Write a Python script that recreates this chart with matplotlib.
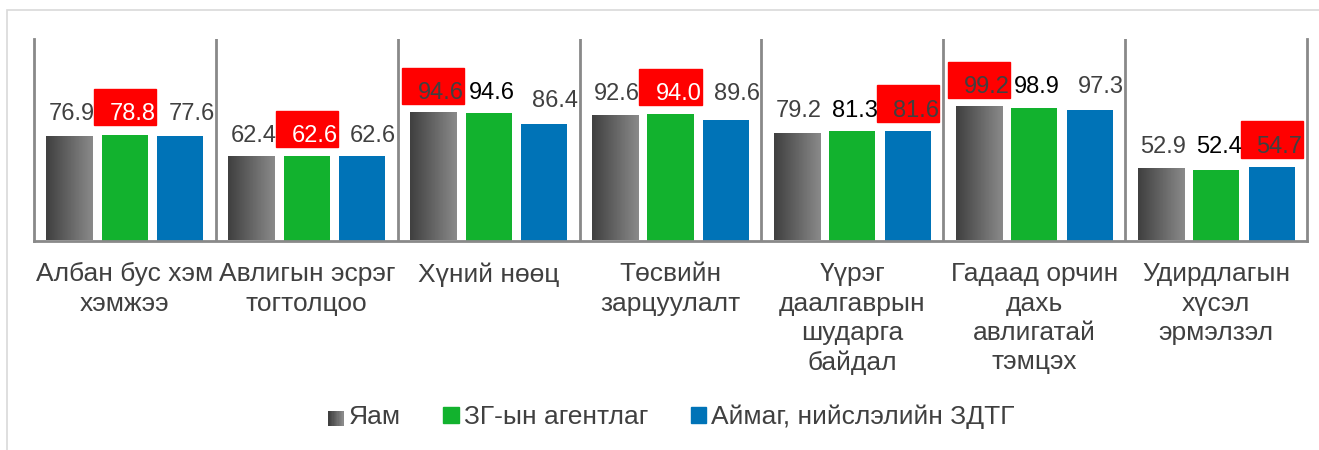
import matplotlib
matplotlib.use("Agg")
import matplotlib.pyplot as plt
import matplotlib.transforms as mtransforms
from matplotlib.patches import Rectangle
from matplotlib.legend_handler import HandlerBase
import numpy as np

plt.rcParams['font.family'] = ['Liberation Sans', 'DejaVu Sans']

# ---- data ----
categories = ["Албан бус хэм\nхэмжээ", "Авлигын эсрэг\nтогтолцоо", "Хүний нөөц",
              "Төсвийн\nзарцуулалт", "Үүрэг\nдаалгаврын\nшударга\nбайдал",
              "Гадаад орчин\nдахь\nавлигатай\nтэмцэх", "Удирдлагын\nхүсэл\nэрмэлзэл"]
series_names = ["Яам", "ЗГ-ын агентлаг", "Аймаг, нийслэлийн ЗДТГ"]
yam = [76.9, 62.4, 94.6, 92.6, 79.2, 99.2, 52.9]
agency = [78.8, 62.6, 94.6, 94.0, 81.3, 98.9, 52.4]
aimag = [77.6, 62.6, 86.4, 89.6, 81.6, 97.3, 54.7]

green = '#12B22E'
blue = '#0073B7'
txt = '#404040'
sep = '#898989'

W, H, DPI = 1319, 450, 100
fig = plt.figure(figsize=(W / DPI, H / DPI), dpi=DPI)
ax = fig.add_axes([34 / W, (H - 240.5) / H, (1307 - 34) / W, (240.5 - 39) / H])

# light frame round the chart
fig.patches.append(Rectangle((7 / W, -0.1), 1.2, 1 - 10 / H + 0.1, transform=fig.transFigure,
                             fill=False, edgecolor='#d9d9d9', linewidth=1.2))

x = np.arange(len(categories))
bw = 0.253
step = 0.305
vals = np.array([yam, agency, aimag])

# gray gradient bars
grad = np.linspace(0.25, 0.54, 64).reshape(1, -1)
for xi, v in zip(x - step, yam):
    ax.imshow(grad, extent=[xi - bw / 2, xi + bw / 2, 0, v], aspect='auto',
              cmap='gray', vmin=0, vmax=1, zorder=2, interpolation='bilinear')
ax.bar(x, agency, bw, color=green, zorder=2)
ax.bar(x + step, aimag, bw, color=blue, zorder=2)

ax.set_xlim(-0.5, len(categories) - 0.5)
ax.set_ylim(0, 150)

# data labels, max of each group on a red box
plain_col = [txt, 'black', txt]
dx_px = [2, 3, 11]
for g in range(len(categories)):
    gmax = vals[:, g].max()
    best = int(np.argmax(vals[:, g]))
    for s in range(3):
        v = vals[s, g]
        xc = x[g] + (s - 1) * step
        ly = v + 19 if v < gmax - 5 else gmax + 17
        if s == best:
            ax.add_patch(Rectangle((xc - 0.1705, ly + 3.4 - 13.5), 0.341, 27,
                                   color='red', zorder=3, clip_on=False))
            col = 'white' if s == 1 else txt
            dx = 8
        else:
            col = plain_col[s]
            dx = dx_px[s]
        ax.annotate(f"{v:.1f}", (xc, ly), xytext=(dx * 0.72, -8.5 * 0.72),
                    textcoords='offset points', ha='center', va='baseline',
                    fontsize=17, color=col, zorder=4, annotation_clip=False)

# group separators and frame
for b in np.arange(0.5, len(categories) - 0.5, 1):
    ax.axvline(b, color=sep, linewidth=2, zorder=1)
ax.spines['top'].set_visible(False)
for side in ['left', 'right', 'bottom']:
    ax.spines[side].set_color(sep)
    ax.spines[side].set_linewidth(2)
ax.set_xticks([])
ax.set_yticks([])

# category labels
trans = mtransforms.blended_transform_factory(ax.transData, ax.transAxes)
for xi, lab in zip(x, categories):
    ax.text(xi, -0.108, lab, transform=trans, ha='center', va='top',
            fontsize=19, color=txt, linespacing=1.28)


class GradHandler(HandlerBase):
    def create_artists(self, legend, orig, xd, yd, width, height, fontsize, trans):
        n = 12
        cols = np.linspace(0.25, 0.54, n)
        return [Rectangle((xd + width * i / n, yd), width / n + 0.3, height,
                          facecolor=str(c), edgecolor='none', transform=trans)
                for i, c in enumerate(cols)]


h0 = Rectangle((0, 0), 1, 1)
h1 = Rectangle((0, 0), 1, 1, color=green)
h2 = Rectangle((0, 0), 1, 1, color=blue)
fig.legend([h0, h1, h2], series_names, handler_map={h0: GradHandler()},
           loc='center', bbox_to_anchor=(671.5 / W, 1 - 417 / H), ncol=3,
           frameon=False, fontsize=19, labelcolor=txt, handlelength=0.58,
           handleheight=0.52, handletextpad=0.2, columnspacing=1.6)

fig.savefig('out.png', dpi=DPI)
